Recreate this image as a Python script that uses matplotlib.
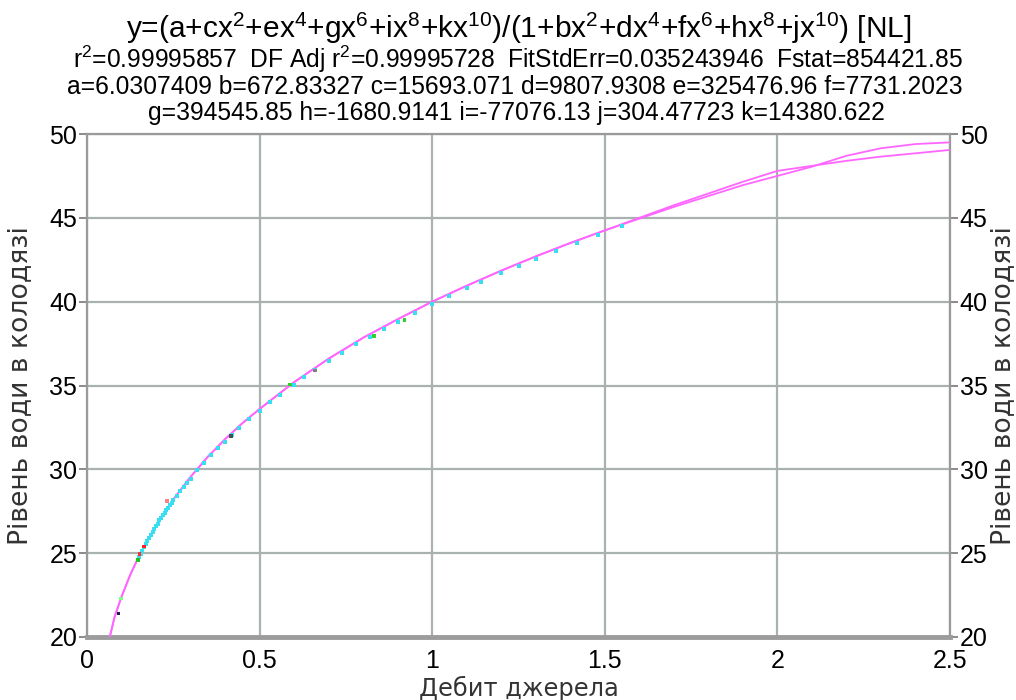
import matplotlib
matplotlib.use("Agg")
import matplotlib.pyplot as plt

# ---------------- data ----------------
# fitted curve (two nearly coincident curves that split beyond x~1.5)
fit_x = [0.066, 0.08, 0.1, 0.125, 0.15, 0.175, 0.2, 0.25, 0.3, 0.35, 0.4, 0.45,
         0.5, 0.6, 0.7, 0.8, 0.9, 1.0, 1.1, 1.2, 1.3, 1.4, 1.5,
         1.6, 1.7, 1.8, 1.9, 2.0, 2.1, 2.2, 2.3, 2.4, 2.5]
fit_y1 = [20.0, 21.2, 22.4, 23.7, 24.8, 25.75, 26.65, 28.2, 29.55, 30.75, 31.8, 32.75,
          33.6, 35.2, 36.6, 37.85, 38.95, 40.0, 40.95, 41.85, 42.7, 43.5, 44.25,
          44.95, 45.65, 46.3, 46.95, 47.5, 48.05, 48.7, 49.15, 49.4, 49.5]
fit_y2 = [20.0, 21.2, 22.4, 23.7, 24.8, 25.75, 26.65, 28.2, 29.55, 30.75, 31.8, 32.75,
          33.6, 35.2, 36.6, 37.85, 38.95, 40.0, 40.95, 41.85, 42.7, 43.5, 44.25,
          45.0, 45.75, 46.45, 47.15, 47.8, 48.1, 48.4, 48.65, 48.85, 49.05]

# measured points (cyan)
pts_x = [0.15, 0.155, 0.16, 0.165, 0.17, 0.175, 0.18, 0.185, 0.19, 0.195, 0.2,
         0.205, 0.21, 0.215, 0.22, 0.225, 0.23, 0.235, 0.24, 0.245, 0.25, 0.26,
         0.27, 0.28, 0.29, 0.3, 0.32, 0.34, 0.36, 0.38, 0.4, 0.42, 0.44, 0.47,
         0.5, 0.53, 0.56, 0.6, 0.63, 0.66, 0.7, 0.74, 0.78, 0.82, 0.86, 0.9,
         0.95, 1.0, 1.05, 1.1, 1.14, 1.2, 1.25, 1.3, 1.36, 1.42, 1.48, 1.55]
pts_y = [24.75, 24.95, 25.15, 25.35, 25.55, 25.7, 25.9, 26.1, 26.25, 26.45, 26.6,
         26.75, 26.95, 27.1, 27.25, 27.4, 27.55, 27.7, 27.85, 28.0, 28.15, 28.4,
         28.7, 28.95, 29.2, 29.45, 29.95, 30.4, 30.85, 31.25, 31.65, 32.05, 32.45, 33.0,
         33.5, 34.0, 34.45, 35.05, 35.5, 35.9, 36.45, 36.95, 37.45, 37.9, 38.35, 38.8,
         39.35, 39.85, 40.35, 40.8, 41.2, 41.7, 42.15, 42.55, 43.05, 43.5, 43.95, 44.5]

# highlighted points (other colours)
hi_x = [0.091, 0.099, 0.148, 0.152, 0.165, 0.232, 0.418, 0.588, 0.66, 0.832, 0.92]
hi_y = [21.4, 22.3, 24.6, 24.95, 25.4, 28.1, 32.0, 35.05, 35.9, 37.95, 38.9]
hi_c = ["#202050", "#80ff80", "#20c020", "#ff3030", "#ff2020", "#ff8080",
        "#405050", "#30d030", "#808080", "#30d030", "#30d030"]

x_ticks = [0, 0.5, 1, 1.5, 2, 2.5]
x_ticklabels = ["0", "0.5", "1", "1.5", "2", "2.5"]
y_ticks = [20, 25, 30, 35, 40, 45, 50]

title_lines = [
    r"y=(a+cx$^{2}$+ex$^{4}$+gx$^{6}$+ix$^{8}$+kx$^{10}$)/(1+bx$^{2}$+dx$^{4}$+fx$^{6}$+hx$^{8}$+jx$^{10}$) [NL]",
    r"r$^{2}$=0.99995857  DF Adj r$^{2}$=0.99995728  FitStdErr=0.035243946  Fstat=854421.85",
    "a=6.0307409 b=672.83327 c=15693.071 d=9807.9308 e=325476.96 f=7731.2023",
    "g=394545.85 h=-1680.9141 i=-77076.13 j=304.47723 k=14380.622",
]
x_label = "Дебит джерела"
y_label = "Рівень води в колодязі"

# ---------------- drawing ----------------
plt.rcParams["font.family"] = ["Liberation Sans", "DejaVu Sans"]
plt.rcParams["mathtext.fontset"] = "custom"
plt.rcParams["mathtext.rm"] = "Liberation Sans"
plt.rcParams["mathtext.default"] = "regular"

W, H = 1016, 700
fig = plt.figure(figsize=(W / 100, H / 100), dpi=100)
fig.patch.set_facecolor("white")

L, R, T, B = 87, 950, 134, 637
ax = fig.add_axes([L / W, 1 - B / H, (R - L) / W, (B - T) / H])
ax.set_xlim(0, 2.5)
ax.set_ylim(20, 50)

grid_c = "#a9b1b1"
ax.set_xticks(x_ticks)
ax.set_xticklabels(x_ticklabels)
ax.set_yticks(y_ticks)
ax.grid(True, color=grid_c, linewidth=1.6, zorder=0)
ax.set_axisbelow(True)

for s in ["left", "right", "top"]:
    ax.spines[s].set_color("#9a9a9a")
    ax.spines[s].set_linewidth(1.6)
ax.spines["bottom"].set_color("#9c9c9c")
ax.spines["bottom"].set_linewidth(3.5)

ax.tick_params(axis="x", length=0, pad=9, labelsize=18)
ax.tick_params(axis="y", which="both", direction="out", length=6, width=1.4,
               color="#8a8a8a", pad=1, labelsize=18,
               left=True, right=True, labelleft=True, labelright=True)

ax.plot(fit_x, fit_y1, color="#ff66ff", lw=1.3, zorder=3)
ax.plot(fit_x, fit_y2, color="#ff66ff", lw=1.3, zorder=3)
ax.scatter(pts_x, pts_y, s=7, marker="s", color="#38dff0", linewidths=0, zorder=4)
ax.scatter(hi_x, hi_y, s=7, marker="s", c=hi_c, linewidths=0, zorder=5)

# ---------------- texts, fitted to measured widths ----------------
renderer = fig.canvas.get_renderer()


def fitted_text(s, xpx, ypx, width_px, size0, rotation=0, va="baseline", **kw):
    t = fig.text(xpx / W, 1 - ypx / H, s, ha="center", va=va, fontsize=size0,
                 rotation=rotation, **kw)
    bb = t.get_window_extent(renderer=renderer)
    cur = bb.height if rotation else bb.width
    t.set_fontsize(size0 * width_px / cur)
    return t


fitted_text(title_lines[0], 519, 38, 786, 17)
fitted_text(title_lines[1], 518, 68, 892, 15)
fitted_text(title_lines[2], 515, 94, 894, 15)
fitted_text(title_lines[3], 516, 120, 737, 15)

fitted_text(x_label, 519, 688, 200, 15, va="center", family="DejaVu Sans",
            color="#333333")
fitted_text(y_label, 20, 386, 320, 15, rotation=90, va="center",
            family="DejaVu Sans", color="#333333")
fitted_text(y_label, 1003, 386, 320, 15, rotation=90, va="center",
            family="DejaVu Sans", color="#333333")

fig.savefig("out.png", dpi=100, facecolor="white")
